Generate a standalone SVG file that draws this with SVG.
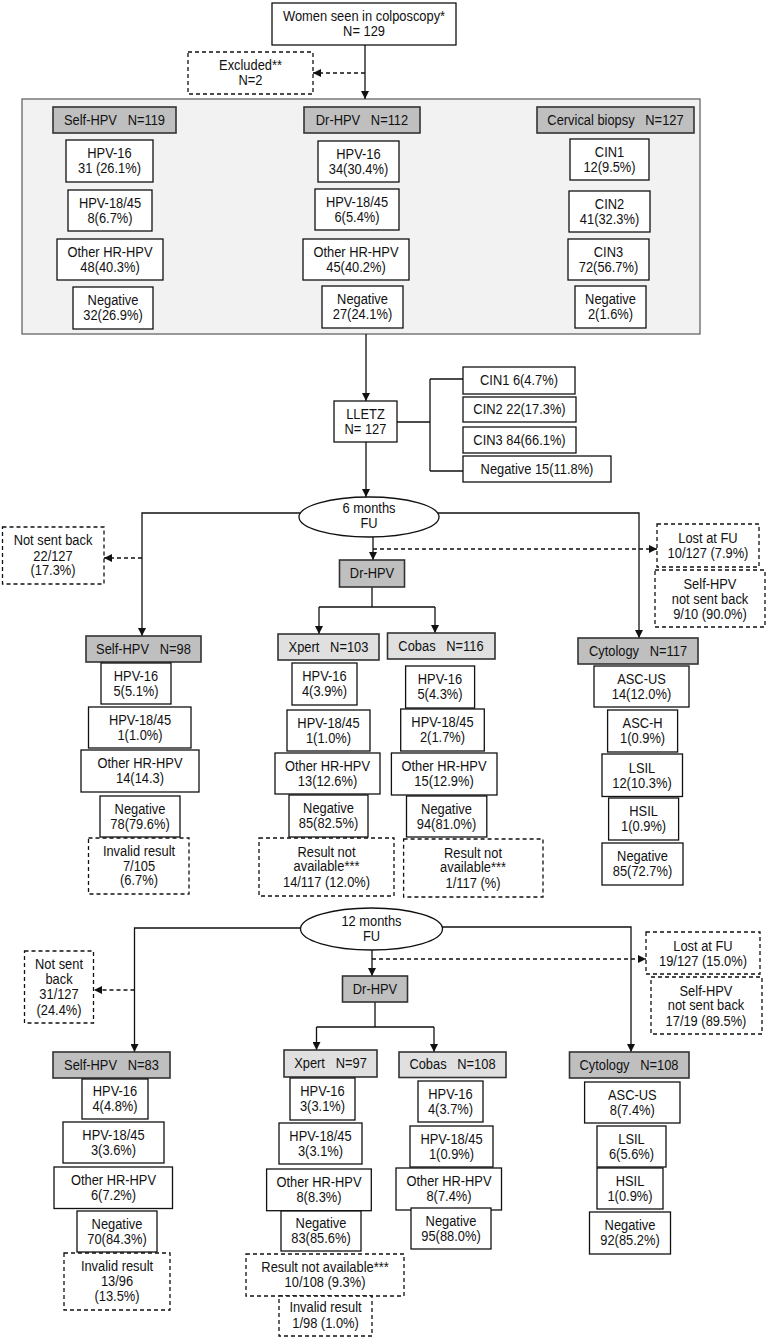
<svg xmlns="http://www.w3.org/2000/svg" width="767" height="1338" viewBox="0 0 767 1338">
<style>
text{font-family:"Liberation Sans",Arial,sans-serif;font-size:14px;text-anchor:middle;fill:#111;transform-box:fill-box;transform-origin:center;transform:scaleX(0.92)}
.box{fill:#fff;stroke:#111;stroke-width:1.3}
.dash{fill:#fff;stroke:#111;stroke-width:1.3;stroke-dasharray:4 3}
.hd{fill:#bfbfbf;stroke:#333;stroke-width:1.6}
.hl{fill:#e0e0e0;stroke:#333;stroke-width:1.6}
.cont{fill:#f2f2f2;stroke:#666;stroke-width:1.3}
.ln{fill:none;stroke:#111;stroke-width:1.3}
.dl{fill:none;stroke:#111;stroke-width:1.3;stroke-dasharray:4 3}
.ar{marker-end:url(#ah)}
</style>
<defs>
<marker id="ah" viewBox="0 0 10 10" refX="10" refY="5" markerWidth="8" markerHeight="8" markerUnits="userSpaceOnUse" orient="auto"><path d="M0,0 L10,5 L0,10 z" fill="#111"/></marker>
</defs>
<rect width="767" height="1338" fill="#fff"/>

<g id="container"><rect class="cont" x="22" y="99" width="678" height="235"/></g>

<g id="connectors">
<path class="ln ar" d="M365,45 V99"/>
<path class="dl ar" d="M365,73 H313"/>
<path class="ln ar" d="M366,334 V401"/>
<path class="ln" d="M397,422 H430 M430,379 V471 M430,379 H463 M430,471 H463"/>
<path class="ln ar" d="M366,442 V497"/>
<path class="ln ar" d="M300,513 H142 V636"/>
<path class="ln ar" d="M438,513 H639 V638"/>
<path class="dl ar" d="M142,558 H104"/>
<path class="ln ar" d="M373,537 V560"/>
<path class="dl ar" d="M373,549 H657"/>
<path class="ln" d="M372,587 V607 M319,607 H435"/>
<path class="ln ar" d="M319,607 V634"/>
<path class="ln ar" d="M435,607 V633"/>
<path class="ln ar" d="M301,928 H134.5 V1052"/>
<path class="ln ar" d="M441,927 H631 V1052"/>
<path class="dl ar" d="M134.5,990 H94"/>
<path class="ln ar" d="M372,950 V976"/>
<path class="dl ar" d="M372,959 H646"/>
<path class="ln" d="M375,1002 V1027 M316.5,1027 H434"/>
<path class="ln ar" d="M316.5,1027 V1050"/>
<path class="ln ar" d="M434,1027 V1052"/>
</g>

<g id="n_women"><rect class="box" x="272" y="3" width="184" height="42"/><text x="364" y="21.5">Women seen in colposcopy*<tspan x="364" dy="15">N= 129</tspan></text></g>
<g id="n_excluded"><rect class="dash" x="188" y="52" width="125" height="42"/><text x="250.5" y="70.5">Excluded**<tspan x="250.5" dy="15">N=2</tspan></text></g>

<g id="h_self0"><rect class="hd" x="53" y="107" width="123" height="26"/><text x="114.5" y="125" xml:space="preserve">Self-HPV   N=119</text></g>
<g id="h_dr0"><rect class="hd" x="304" y="107" width="116" height="26"/><text x="362" y="125" xml:space="preserve">Dr-HPV   N=112</text></g>
<g id="h_biopsy"><rect class="hd" x="537" y="107" width="157" height="26"/><text x="615.5" y="125" xml:space="preserve">Cervical biopsy   N=127</text></g>

<g id="s0_16"><rect class="box" x="66" y="140" width="87" height="42"/><text x="109.5" y="158.5">HPV-16<tspan x="109.5" dy="15">31 (26.1%)</tspan></text></g>
<g id="s0_18"><rect class="box" x="68" y="190" width="84" height="41"/><text x="110" y="208">HPV-18/45<tspan x="110" dy="15">8(6.7%)</tspan></text></g>
<g id="s0_oth"><rect class="box" x="57" y="239" width="106" height="41"/><text x="110" y="257">Other HR-HPV<tspan x="110" dy="15">48(40.3%)</tspan></text></g>
<g id="s0_neg"><rect class="box" x="73" y="287" width="80" height="42"/><text x="113" y="305.5">Negative<tspan x="113" dy="15">32(26.9%)</tspan></text></g>

<g id="d0_16"><rect class="box" x="318" y="141" width="81" height="41"/><text x="358.5" y="159">HPV-16<tspan x="358.5" dy="15">34(30.4%)</tspan></text></g>
<g id="d0_18"><rect class="box" x="315" y="189" width="84" height="41"/><text x="357" y="207">HPV-18/45<tspan x="357" dy="15">6(5.4%)</tspan></text></g>
<g id="d0_oth"><rect class="box" x="303" y="239" width="106" height="41"/><text x="356" y="257">Other HR-HPV<tspan x="356" dy="15">45(40.2%)</tspan></text></g>
<g id="d0_neg"><rect class="box" x="322" y="286" width="81" height="42"/><text x="362.5" y="304.5">Negative<tspan x="362.5" dy="15">27(24.1%)</tspan></text></g>

<g id="b_cin1"><rect class="box" x="570" y="139" width="79" height="41"/><text x="609.5" y="157">CIN1<tspan x="609.5" dy="15">12(9.5%)</tspan></text></g>
<g id="b_cin2"><rect class="box" x="569" y="191" width="81" height="41"/><text x="609.5" y="209">CIN2<tspan x="609.5" dy="15">41(32.3%)</tspan></text></g>
<g id="b_cin3"><rect class="box" x="568" y="239" width="81" height="41"/><text x="608.5" y="257">CIN3<tspan x="608.5" dy="15">72(56.7%)</tspan></text></g>
<g id="b_neg"><rect class="box" x="575" y="286" width="71" height="42"/><text x="610.5" y="304.5">Negative<tspan x="610.5" dy="15">2(1.6%)</tspan></text></g>

<g id="n_lletz"><rect class="box" x="334" y="401" width="63" height="41"/><text x="365.5" y="419">LLETZ<tspan x="365.5" dy="15">N= 127</tspan></text></g>
<g id="l_cin1"><rect class="box" x="463" y="367" width="112" height="27"/><text x="519" y="385.5">CIN1 6(4.7%)</text></g>
<g id="l_cin2"><rect class="box" x="463" y="397" width="113" height="25"/><text x="519.5" y="414.5">CIN2 22(17.3%)</text></g>
<g id="l_cin3"><rect class="box" x="463" y="427" width="113" height="26"/><text x="519.5" y="445">CIN3 84(66.1%)</text></g>
<g id="l_neg"><rect class="box" x="463" y="456" width="148" height="26"/><text x="537" y="474">Negative 15(11.8%)</text></g>

<g id="e_6m"><ellipse class="box" cx="369" cy="517" rx="70" ry="20"/><text x="369" y="513">6 months<tspan x="369" dy="15">FU</tspan></text></g>
<g id="n_notsent6"><rect class="dash" x="2.5" y="527" width="101.5" height="57"/><text x="53" y="545.5">Not sent back<tspan x="53" dy="15">22/127</tspan><tspan x="53" dy="15">(17.3%)</tspan></text></g>
<g id="n_lost6"><rect class="dash" x="657" y="524" width="102" height="43"/><text x="708" y="543">Lost at FU<tspan x="708" dy="15">10/127 (7.9%)</tspan></text></g>
<g id="n_selfns6"><rect class="dash" x="655" y="570" width="110" height="57"/><text x="710" y="589">Self-HPV<tspan x="710" dy="15">not sent back</tspan><tspan x="710" dy="15">9/10 (90.0%)</tspan></text></g>
<g id="n_dr6"><rect class="hd" x="339.5" y="560" width="65" height="27"/><text x="372" y="578.5">Dr-HPV</text></g>

<g id="h_self6"><rect class="hd" x="86" y="636" width="115" height="26"/><text x="143.5" y="654" xml:space="preserve">Self-HPV   N=98</text></g>
<g id="h_xpert6"><rect class="hl" x="278" y="634" width="101" height="26"/><text x="328.5" y="652" xml:space="preserve">Xpert   N=103</text></g>
<g id="h_cobas6"><rect class="hl" x="387.5" y="633" width="107.5" height="26"/><text x="441" y="651" xml:space="preserve">Cobas   N=116</text></g>
<g id="h_cyto6"><rect class="hd" x="578" y="638" width="120" height="26"/><text x="638" y="656" xml:space="preserve">Cytology   N=117</text></g>

<g id="s6_16"><rect class="box" x="101" y="663" width="70" height="41"/><text x="136" y="681">HPV-16<tspan x="136" dy="15">5(5.1%)</tspan></text></g>
<g id="s6_18"><rect class="box" x="88.5" y="707" width="102.5" height="41"/><text x="140" y="725">HPV-18/45<tspan x="140" dy="15">1(1.0%)</tspan></text></g>
<g id="s6_oth"><rect class="box" x="81" y="750" width="118" height="42"/><text x="140" y="768.5">Other HR-HPV<tspan x="140" dy="15">14(14.3)</tspan></text></g>
<g id="s6_neg"><rect class="box" x="100" y="796" width="80" height="41"/><text x="140" y="814">Negative<tspan x="140" dy="15">78(79.6%)</tspan></text></g>
<g id="s6_inv"><rect class="dash" x="88.5" y="838" width="100.5" height="56"/><text x="139" y="856.5">Invalid result<tspan x="139" dy="14.5">7/105</tspan><tspan x="139" dy="14.5">(6.7%)</tspan></text></g>

<g id="x6_16"><rect class="box" x="292" y="663" width="65" height="42"/><text x="324.5" y="681.5">HPV-16<tspan x="324.5" dy="15">4(3.9%)</tspan></text></g>
<g id="x6_18"><rect class="box" x="287" y="710" width="83" height="41"/><text x="328.5" y="728">HPV-18/45<tspan x="328.5" dy="15">1(1.0%)</tspan></text></g>
<g id="x6_oth"><rect class="box" x="275" y="753" width="105" height="41"/><text x="327.5" y="771.5">Other HR-HPV<tspan x="327.5" dy="15">13(12.6%)</tspan></text></g>
<g id="x6_neg"><rect class="box" x="289" y="795" width="79" height="42"/><text x="328.5" y="813.5">Negative<tspan x="328.5" dy="15">85(82.5%)</tspan></text></g>
<g id="x6_na"><rect class="dash" x="259" y="838" width="135" height="58"/><text x="326.5" y="857.5">Result not<tspan x="326.5" dy="14">available***</tspan><tspan x="326.5" dy="15.5">14/117 (12.0%)</tspan></text></g>

<g id="c6_16"><rect class="box" x="405.6" y="666" width="69" height="42"/><text x="440" y="684.5">HPV-16<tspan x="440" dy="15">5(4.3%)</tspan></text></g>
<g id="c6_18"><rect class="box" x="400.7" y="709" width="83.6" height="42"/><text x="442.5" y="727.5">HPV-18/45<tspan x="442.5" dy="15">2(1.7%)</tspan></text></g>
<g id="c6_oth"><rect class="box" x="391.4" y="753" width="105.6" height="42"/><text x="444" y="771.5">Other HR-HPV<tspan x="444" dy="15">15(12.9%)</tspan></text></g>
<g id="c6_neg"><rect class="box" x="406.5" y="796" width="80.3" height="41"/><text x="446.5" y="814">Negative<tspan x="446.5" dy="15">94(81.0%)</tspan></text></g>
<g id="c6_na"><rect class="dash" x="403.6" y="839" width="139.4" height="58"/><text x="473" y="858.5">Result not<tspan x="473" dy="14">available***</tspan><tspan x="473" dy="15.5">1/117 (%)</tspan></text></g>

<g id="y6_ascus"><rect class="box" x="594" y="666" width="95" height="41"/><text x="641.5" y="684">ASC-US<tspan x="641.5" dy="15">14(12.0%)</tspan></text></g>
<g id="y6_asch"><rect class="box" x="607.6" y="710" width="70" height="42"/><text x="642.6" y="728.5">ASC-H<tspan x="642.6" dy="15">1(0.9%)</tspan></text></g>
<g id="y6_lsil"><rect class="box" x="602" y="754" width="80.5" height="42.5"/><text x="642" y="773">LSIL<tspan x="642" dy="15">12(10.3%)</tspan></text></g>
<g id="y6_hsil"><rect class="box" x="608.6" y="798" width="70" height="42"/><text x="643.6" y="816.5">HSIL<tspan x="643.6" dy="15">1(0.9%)</tspan></text></g>
<g id="y6_neg"><rect class="box" x="602" y="843" width="81" height="42"/><text x="642.5" y="861.5">Negative<tspan x="642.5" dy="15">85(72.7%)</tspan></text></g>

<g id="e_12m"><ellipse class="box" cx="371.5" cy="929" rx="71" ry="21"/><text x="371.5" y="926.5">12 months<tspan x="371.5" dy="15">FU</tspan></text></g>
<g id="n_notsent12"><rect class="dash" x="24.5" y="951" width="69" height="72"/><text x="59" y="969.5">Not sent<tspan x="59" dy="15">back</tspan><tspan x="59" dy="15">31/127</tspan><tspan x="59" dy="15.5">(24.4%)</tspan></text></g>
<g id="n_lost12"><rect class="dash" x="646" y="932" width="114" height="42"/><text x="703" y="951.5">Lost at FU<tspan x="703" dy="15">19/127 (15.0%)</tspan></text></g>
<g id="n_selfns12"><rect class="dash" x="651" y="977" width="111" height="57"/><text x="706" y="996">Self-HPV<tspan x="706" dy="14.5">not sent back</tspan><tspan x="706" dy="15.5">17/19 (89.5%)</tspan></text></g>
<g id="n_dr12"><rect class="hd" x="342.5" y="976" width="65" height="26"/><text x="375" y="994.5">Dr-HPV</text></g>

<g id="h_self12"><rect class="hd" x="53" y="1052" width="117" height="26"/><text x="111.5" y="1070" xml:space="preserve">Self-HPV   N=83</text></g>
<g id="h_xpert12"><rect class="hl" x="284" y="1050" width="93" height="27"/><text x="330.5" y="1068.5" xml:space="preserve">Xpert   N=97</text></g>
<g id="h_cobas12"><rect class="hl" x="399" y="1052" width="107" height="25.5"/><text x="452.5" y="1069.5" xml:space="preserve">Cobas   N=108</text></g>
<g id="h_cyto12"><rect class="hd" x="569.5" y="1052" width="119.5" height="26"/><text x="629" y="1070" xml:space="preserve">Cytology   N=108</text></g>

<g id="s12_16"><rect class="box" x="82" y="1079" width="66" height="40"/><text x="115" y="1096.5">HPV-16<tspan x="115" dy="15">4(4.8%)</tspan></text></g>
<g id="s12_18"><rect class="box" x="63" y="1122" width="101" height="41"/><text x="113.5" y="1140">HPV-18/45<tspan x="113.5" dy="15">3(3.6%)</tspan></text></g>
<g id="s12_oth"><rect class="box" x="54" y="1167" width="118.5" height="41.5"/><text x="113.5" y="1185">Other HR-HPV<tspan x="113.5" dy="15">6(7.2%)</tspan></text></g>
<g id="s12_neg"><rect class="box" x="77" y="1211" width="80" height="41"/><text x="117" y="1229">Negative<tspan x="117" dy="15">70(84.3%)</tspan></text></g>
<g id="s12_inv"><rect class="dash" x="64" y="1253" width="106" height="57"/><text x="117" y="1271.5">Invalid result<tspan x="117" dy="14.5">13/96</tspan><tspan x="117" dy="15.5">(13.5%)</tspan></text></g>

<g id="x12_16"><rect class="box" x="290" y="1078" width="65" height="42"/><text x="322.5" y="1096.5">HPV-16<tspan x="322.5" dy="15">3(3.1%)</tspan></text></g>
<g id="x12_18"><rect class="box" x="279" y="1123" width="83" height="41"/><text x="320.5" y="1141">HPV-18/45<tspan x="320.5" dy="15">3(3.1%)</tspan></text></g>
<g id="x12_oth"><rect class="box" x="266.6" y="1169" width="104.7" height="41.7"/><text x="319" y="1187.5">Other HR-HPV<tspan x="319" dy="15">8(8.3%)</tspan></text></g>
<g id="x12_neg"><rect class="box" x="281" y="1211" width="80" height="40"/><text x="321" y="1228.5">Negative<tspan x="321" dy="15">83(85.6%)</tspan></text></g>
<g id="x12_na"><rect class="dash" x="246" y="1254" width="158" height="42"/><text x="325" y="1272.5">Result not available***<tspan x="325" dy="15">10/108 (9.3%)</tspan></text></g>
<g id="x12_inv"><rect class="dash" x="279" y="1296" width="93" height="40"/><text x="325.5" y="1312.5">Invalid result<tspan x="325.5" dy="15.5">1/98 (1.0%)</tspan></text></g>

<g id="c12_16"><rect class="box" x="418" y="1081" width="65" height="41"/><text x="450.5" y="1099">HPV-16<tspan x="450.5" dy="15">4(3.7%)</tspan></text></g>
<g id="c12_18"><rect class="box" x="410" y="1126" width="83" height="41"/><text x="451.5" y="1144">HPV-18/45<tspan x="451.5" dy="15">1(0.9%)</tspan></text></g>
<g id="c12_oth"><rect class="box" x="396" y="1168" width="105.5" height="42"/><text x="449" y="1186.5">Other HR-HPV<tspan x="449" dy="15">8(7.4%)</tspan></text></g>
<g id="c12_neg"><rect class="box" x="411" y="1208" width="80" height="41"/><text x="451" y="1226">Negative<tspan x="451" dy="15">95(88.0%)</tspan></text></g>

<g id="y12_ascus"><rect class="box" x="584.6" y="1082" width="95.4" height="41"/><text x="632.3" y="1100">ASC-US<tspan x="632.3" dy="15">8(7.4%)</tspan></text></g>
<g id="y12_lsil"><rect class="box" x="597" y="1126" width="69" height="41"/><text x="631.5" y="1144">LSIL<tspan x="631.5" dy="15">6(5.6%)</tspan></text></g>
<g id="y12_hsil"><rect class="box" x="597" y="1168" width="66" height="41"/><text x="630" y="1186">HSIL<tspan x="630" dy="15">1(0.9%)</tspan></text></g>
<g id="y12_neg"><rect class="box" x="589.5" y="1212" width="81" height="42"/><text x="630" y="1230.5">Negative<tspan x="630" dy="15">92(85.2%)</tspan></text></g>
</svg>
